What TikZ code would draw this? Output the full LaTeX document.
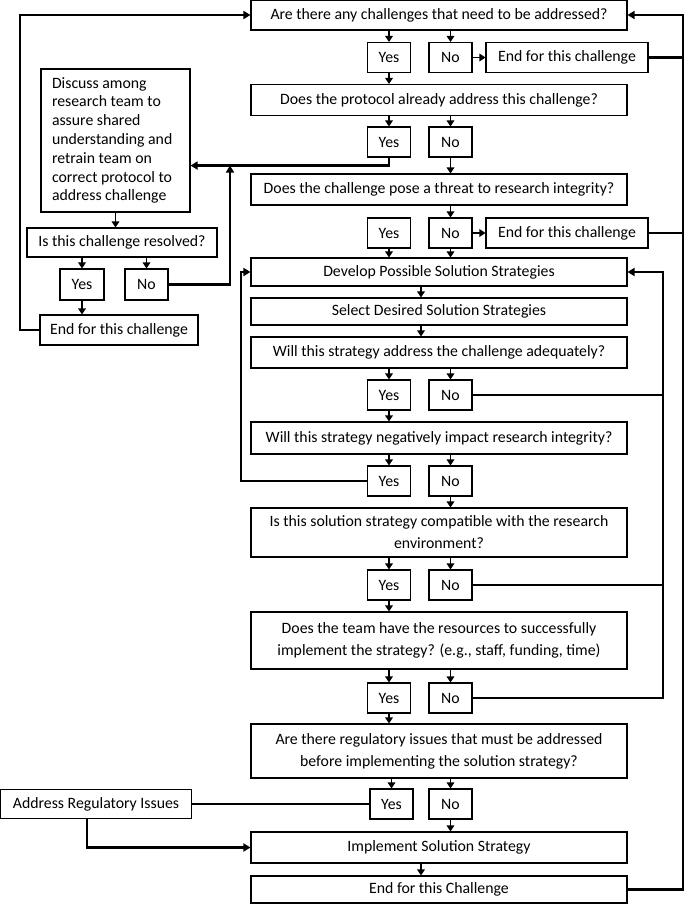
\documentclass[tikz,border=0pt]{standalone}
\usepackage{fontspec}
\setmainfont{Carlito}
\usetikzlibrary{arrows.meta}

\begin{document}
\begin{tikzpicture}[x=1pt,y=-1pt,
    box/.style={draw,line width=1.1pt,inner sep=2pt,font=\fontsize{15.8}{22}\selectfont},
    q/.style={box,minimum width=376pt,minimum height=#1pt,align=center},
    q/.default=30,
    yn/.style={box,minimum width=43pt,minimum height=30pt},
    endbox/.style={box,minimum width=162pt,minimum height=30pt},
    arr/.style={line width=1.7pt,-{Triangle[length=6pt,width=7.5pt]}},
    lp/.style={line width=2.8pt},
    lparr/.style={lp,-{Triangle[length=7pt,width=8pt]}}]
  \useasboundingbox (0,0) rectangle (685,904);

  \node[q] (q1) at (439,15) {Are there any challenges that need to be addressed?};
  \node[yn] (y1) at (389,57.5) {Yes};
  \node[yn] (n1) at (450.5,57.5) {No};
  \node[endbox] (e1) at (567,57.5) {End for this challenge};
  \node[q=31] (q2) at (439,100) {Does the protocol already address this challenge?};
  \node[yn] (y2) at (389,142) {Yes};
  \node[yn] (n2) at (450.5,142) {No};
  \node[q=31] (q3) at (439,189.5) {Does the challenge pose a threat to research integrity?};
  \node[yn] (y3) at (389,233) {Yes};
  \node[yn] (n3) at (450.5,233) {No};
  \node[endbox] (e2) at (567,233) {End for this challenge};
  \node[q=28] (dv) at (439,272) {Develop Possible Solution Strategies};
  \node[q=27] (sl) at (439,311.5) {Select Desired Solution Strategies};
  \node[q=31] (q4) at (439,352.5) {Will this strategy address the challenge adequately?};
  \node[yn] (y4) at (389,395) {Yes};
  \node[yn] (n4) at (450.5,395) {No};
  \node[q=32] (q5) at (439,438) {Will this strategy negatively impact research integrity?};
  \node[yn] (y5) at (389,481) {Yes};
  \node[yn] (n5) at (450.5,481) {No};
  \node[q=49] (q6) at (439,532.5) {Is this solution strategy compatible with the research\\environment?};
  \node[yn] (y6) at (389,585) {Yes};
  \node[yn] (n6) at (450.5,585) {No};
  \node[q=57] (q7) at (439,640.5) {Does the team have the resources to successfully\\implement the strategy? (e.g., staff, funding, time)};
  \node[yn] (y7) at (389,698) {Yes};
  \node[yn] (n7) at (450.5,698) {No};
  \node[q=54] (q8) at (439,751) {Are there regulatory issues that must be addressed\\before implementing the solution strategy?};
  \node[yn] (y8) at (391.5,804) {Yes};
  \node[yn] (n8) at (450.5,804) {No};
  \node[box,minimum width=191pt,minimum height=29pt] (ar) at (96,804) {Address Regulatory Issues};
  \node[q=31] (im) at (439,847.5) {Implement Solution Strategy};
  \node[q=27] (ec) at (439,889.5) {End for this Challenge};

  \node[box,text width=127pt,minimum height=143pt,align=flush left,inner xsep=11pt,
    font=\fontsize{15.8}{18.8}\selectfont] (d) at (115.5,140.5) {Discuss among\\research team to\\assure shared\\understanding and\\retrain team on\\correct protocol to\\address challenge};
  \node[box,minimum width=190pt,minimum height=29pt] (lq) at (122,242.5) {Is this challenge resolved?};
  \node[yn,minimum width=44pt,minimum height=31pt] (ly) at (82,284.5) {Yes};
  \node[yn,minimum height=31pt] (ln) at (146.5,284.5) {No};
  \node[box,minimum width=158pt,minimum height=30pt] (el) at (119,330) {End for this challenge};

  \coordinate (rr) at (683,0);
  \coordinate (rx) at (663,0);
  \coordinate (lx) at (241,0);
  \coordinate (ml) at (230,0);
  \coordinate (ll) at (20,0);

  \foreach \a/\b in {q1/y1,q1/n1,q2/y2,q2/n2,q3/n3,q4/y4,q4/n4,q5/y5,q5/n5,q6/y6,q6/n6,q7/y7,q7/n7,q8/y8,q8/n8,lq/ly,lq/ln}
    \draw[arr] (\b |- \a.south) -- (\b.north);
  \foreach \a/\b in {y1/q2,n2/q3,y3/dv,n3/dv,y4/q5,n5/q6,y6/q7,y7/q8,n8/im,ly/el}
    \draw[arr] (\a.south) -- (\a |- \b.north);
  \draw[arr] (n1) -- (e1);
  \draw[arr] (n3) -- (e2);
  \draw[arr] (d) -- (d |- lq.north);
  \draw[arr] ([xshift=-18pt]dv.south) -- ([xshift=-18pt]sl.north);
  \draw[arr] ([xshift=-18pt]sl.south) -- ([xshift=-18pt]q4.north);
  \draw[arr] ([xshift=-18pt]im.south) -- ([xshift=-18pt]ec.north);

  \draw[lparr] (ec.east) -- (ec.east -| rr) -- (rr |- q1.east) -- (q1.east);
  \draw[lp] (e1.east) -- (e1.east -| rr);
  \draw[lp] (e2.east) -- (e2.east -| rr);
  \draw[lparr] (el.west) -- (el.west -| ll) -- (ll |- q1.west) -- (q1.west);
  \draw[lparr] (y2.south) -- ++(0,8) coordinate (j1) -- (j1 -| d.east);
  \draw[lparr] (ln.east) -| (ml |- j1);
  \draw[lparr] (y5.west) -- (y5.west -| lx) -- (lx |- dv.west) -- (dv.west);
  \draw[lp] (n4.east) -- (n4.east -| rx);
  \draw[lp] (n6.east) -- (n6.east -| rx);
  \draw[lparr] (n7.east) -| (rx |- dv.east) -- (dv.east);
  \draw[lp] (y8.west) -- (ar.east);
  \draw[lparr] ([xshift=-9pt]ar.south) |- (im.west);
\end{tikzpicture}
\end{document}
